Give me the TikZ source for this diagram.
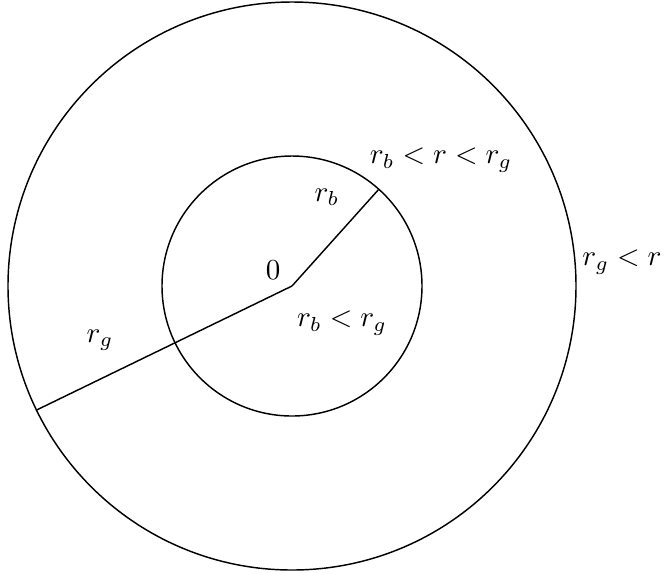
\documentclass[tikz,border=0pt]{standalone}
\begin{document}
\begin{tikzpicture}[x=0.345pt,y=-0.345pt,
  ring/.style={draw=black,line width=0.5pt},
  radiusline/.style={draw=black,line width=0.5pt},
  lbl/.style={inner sep=0pt,font=\normalsize}]
\useasboundingbox (0,0) rectangle (668,573);
\coordinate (O) at (292,286);
\draw[ring] (O) circle[radius=284];
\draw[ring] (O) circle[radius=130];
\path (O) ++(-48.1:130) coordinate (B);
\path (O) ++(154.1:284) coordinate (G);
\draw[radiusline] (O) -- (B);
\draw[radiusline] (O) -- (G);
\node[lbl] (l1) at (441,160) {$r_b<r<r_g$};
\node[lbl] (l2) at (327,197) {$r_b$};
\node[lbl] (l3) at (273,270) {$0$};
\node[lbl] (l4) at (342,323) {$r_b<r_g$};
\node[lbl] (l5) at (100,340) {$r_g$};
\node[lbl] (l6) at (622,262) {$r_g<r$};
\end{tikzpicture}
\end{document}
